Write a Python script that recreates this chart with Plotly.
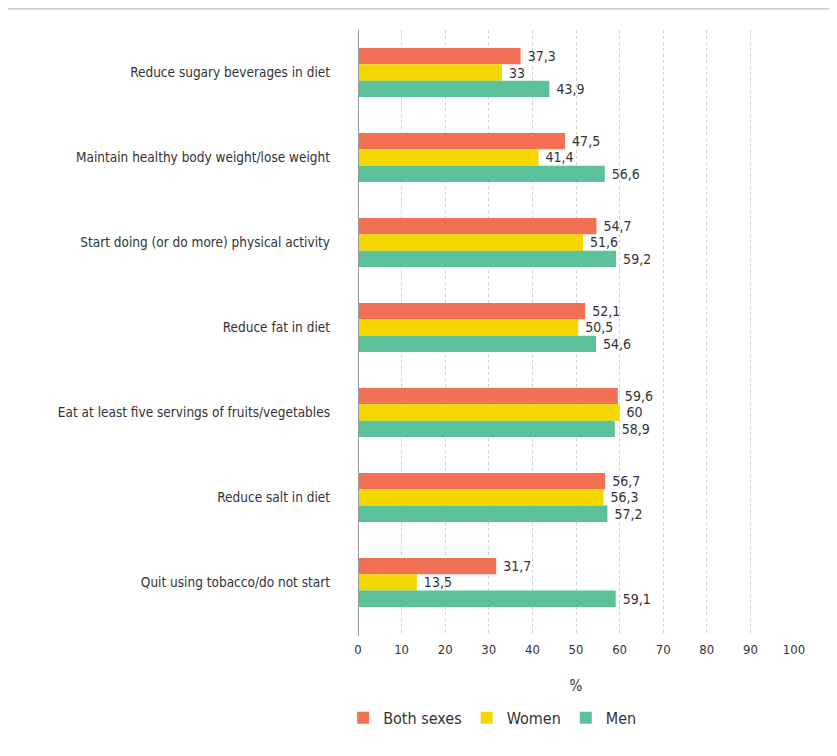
import plotly.graph_objects as go

categories = [
    "Reduce sugary beverages in diet",
    "Maintain healthy body weight/lose weight",
    "Start doing (or do more) physical activity",
    "Reduce fat in diet",
    "Eat at least five servings of fruits/vegetables",
    "Reduce salt in diet",
    "Quit using tobacco/do not start",
]
both_sexes = [37.3, 47.5, 54.7, 52.1, 59.6, 56.7, 31.7]
women = [33, 41.4, 51.6, 50.5, 60, 56.3, 13.5]
men = [43.9, 56.6, 59.2, 54.6, 58.9, 57.2, 59.1]
series_names = ["Both sexes", "Women", "Men"]
colors = ["#F27054", "#F5D700", "#5AC198"]

FONT = "DejaVu Sans Condensed"

def fmt(v):
    return " " + ("%g" % v).replace(".", ",")

fig = go.Figure()
for name, vals, col in zip(series_names, [both_sexes, women, men], colors):
    fig.add_trace(go.Bar(
        y=categories, x=vals, name=name, orientation="h",
        marker=dict(color=col, line=dict(width=0)),
        text=[fmt(v) for v in vals], textposition="outside",
        textfont=dict(family=FONT, size=14, color="#333333"),
        constraintext="none", cliponaxis=False,
    ))

W, H = 837, 756
L, R, T, B = 350, 51, 22, 128
ph = H - T - B
pw = W - L - R

fig.update_layout(
    width=W, height=H,
    margin=dict(l=L, r=R, t=T, b=B, pad=0),
    paper_bgcolor="white", plot_bgcolor="white",
    barmode="group", bargap=0.424, bargroupgap=0,
    font=dict(family=FONT, size=13, color="#333333"),
    xaxis=dict(range=[0, 100], dtick=10, showgrid=True, gridcolor="#d0d0d0",
               griddash="dot", gridwidth=1, zeroline=False, showline=False,
               ticks="", ticklabelstandoff=4, tickfont=dict(size=13, color="#333333"),
               title=dict(text="%", font=dict(size=15, color="#333333"), standoff=24)),
    yaxis=dict(range=[6.63, -0.5], showgrid=False, zeroline=False,
               showline=False, ticks="", ticksuffix="       ",
               tickfont=dict(size=13.5, color="#333333")),
    legend=dict(orientation="h", x=-0.034, xanchor="left",
                y=-0.107, yanchor="top", font=dict(size=16, color="#333333"),
                traceorder="normal"),
    shapes=[
        dict(type="line", xref="paper", yref="paper",
             x0=-L / pw, x1=(W - L) / pw, y0=1 + (T - 0.5) / ph, y1=1 + (T - 0.5) / ph,
             line=dict(color="#c8c8c8", width=2)),
        dict(type="line", xref="x", yref="paper", x0=0, x1=0, y0=0, y1=1,
             line=dict(color="#999999", width=2)),
    ],
)
fig.write_html("out.html")
